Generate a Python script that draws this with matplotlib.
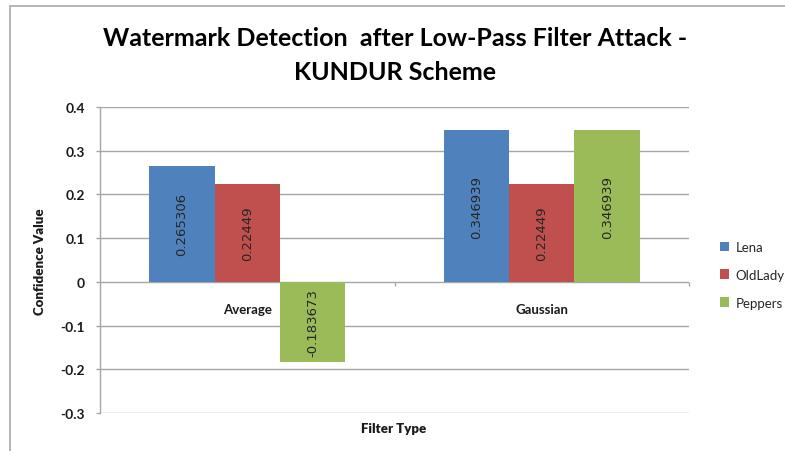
import matplotlib
matplotlib.use("Agg")
import matplotlib.pyplot as plt
from matplotlib.lines import Line2D
import numpy as np

categories = ["Average", "Gaussian"]
series_names = ["Lena", "OldLady", "Peppers"]
lena = [0.265306, 0.346939]
oldlady = [0.22449, 0.22449]
peppers = [-0.183673, 0.346939]
colors = ["#4F81BD", "#C0504D", "#9BBB59"]
yticks = [-0.3, -0.2, -0.1, 0, 0.1, 0.2, 0.3, 0.4]
ytick_labels = ["-0.3", "-0.2", "-0.1", "0", "0.1", "0.2", "0.3", "0.4"]

FONT = ["Lato", "DejaVu Sans"]
plt.rcParams["font.family"] = FONT

W, H = 785, 452
fig = plt.figure(figsize=(W / 100, H / 100), dpi=100)
fig.patch.set_facecolor("white")

# outer chart frame (left and top edges)
frame_c = "#b0b0b0"
fig.add_artist(Line2D([10 / W, 10 / W], [0, 1 - 7 / H], color=frame_c, lw=1.3))
fig.add_artist(Line2D([10 / W, 1], [1 - 7 / H, 1 - 7 / H], color=frame_c, lw=1.3))

left, right = 100 / W, 689 / W
bottom, top = 1 - 414 / H, 1 - 108 / H
ax = fig.add_axes([left, bottom, right - left, top - bottom])

x = np.arange(len(categories))
bw = 1 / 4.5
grid_c = "#a6a6a6"

for y in yticks:
    ax.axhline(y, color=grid_c, lw=1.0, zorder=0)

all_series = [lena, oldlady, peppers]
for i, (vals, name, c) in enumerate(zip(all_series, series_names, colors)):
    pos = x + (i - 1) * bw
    ax.bar(pos, vals, width=bw, color=c, label=name, zorder=2)
    for px, v in zip(pos, vals):
        ax.text(px, v / 2, f"{v:g}", rotation=90, ha="center", va="center",
                fontsize=9.5, color="#262626", zorder=3,
                family=["DejaVu Sans"])

ax.set_xlim(-0.5, 1.5)
ax.set_ylim(-0.3, 0.4)

# category tick marks on the zero line
tick_len = 0.0095
ax.vlines([0.5, 1.5], -tick_len, 0, color=grid_c, lw=1.0, zorder=1,
          clip_on=False)

for xi, lab in zip(x, categories):
    ax.annotate(lab, (xi, 0), xytext=(0, -27), textcoords="offset pixels",
                ha="center", va="center", fontsize=9.5, fontweight="bold",
                color="#1a1a1a")

ax.set_xticks([])
ax.set_yticks(yticks)
ax.set_yticklabels(ytick_labels)
ax.tick_params(axis="y", length=3, width=1, color=grid_c, pad=8,
               labelsize=10)
for lab in ax.get_yticklabels():
    lab.set_fontweight("bold")
    lab.set_color("#1a1a1a")

for s in ["top", "right", "bottom"]:
    ax.spines[s].set_visible(False)
ax.spines["left"].set_color(grid_c)
ax.spines["left"].set_linewidth(1.0)

fig.text(40 / W, 1 - 262 / H, "Confidence Value", rotation=90,
         ha="center", va="center", fontsize=9.5, fontweight="heavy",
         color="#1a1a1a")
fig.text(394 / W, 1 - 429 / H, "Filter Type", ha="center", va="center",
         fontsize=9.5, fontweight="heavy", color="#1a1a1a")

fig.text(395 / W, 1 - 38 / H, "Watermark Detection  after Low-Pass Filter Attack -",
         ha="center", va="center", fontsize=18, fontweight="bold", color="black")
fig.text(395 / W, 1 - 72 / H, "KUNDUR Scheme",
         ha="center", va="center", fontsize=18, fontweight="bold", color="black")

leg = fig.legend(loc="upper left",
                 bbox_to_anchor=(708 / W, 1 - 230 / H), frameon=False,
                 fontsize=9.5, handlelength=0.7, handleheight=0.7,
                 labelspacing=1.2, handletextpad=0.5)
for t in leg.get_texts():
    t.set_color("#262626")

fig.savefig("out.png", dpi=100, facecolor="white")
